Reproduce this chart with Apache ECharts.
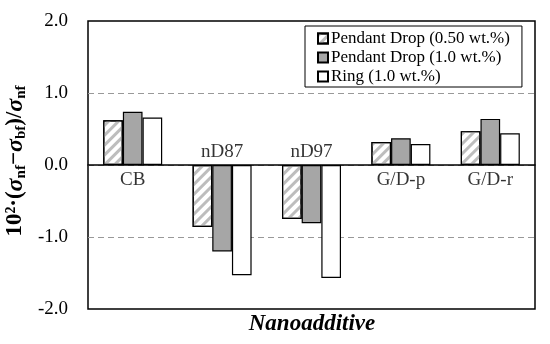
<!DOCTYPE html>
<html><head><meta charset="utf-8">
<script src="https://cdn.jsdelivr.net/npm/echarts@6/dist/echarts.min.js"></script>
<style>html,body{margin:0;padding:0;background:#fff}#c{width:550px;height:344px}</style>
</head><body><div id="c"></div>
<script>
const categories = ['CB', 'nD87', 'nD97', 'G/D-p', 'G/D-r'];
const seriesNames = ['Pendant Drop (0.50 wt.%)', 'Pendant Drop (1.0 wt.%)', 'Ring (1.0 wt.%)'];
const pendant050 = [0.62, -0.86, -0.75, 0.32, 0.47];
const pendant100 = [0.74, -1.20, -0.81, 0.37, 0.64];
const ring100 = [0.66, -1.53, -1.57, 0.29, 0.44];
const yMin = -2, yMax = 2, yStep = 1;

const FONT = 'Liberation Serif';
const chart = echarts.init(document.getElementById('c'), null, {renderer: 'canvas'});
const border = {borderColor: '#000', borderWidth: 1.2};
const labelData = categories.map((c, i) => {
  const m = pendant050[i] + pendant100[i] + ring100[i];
  return {name: c, value: [c, 0], label: {position: m > 0 ? 'bottom' : 'top', distance: m > 0 ? 6 : 3}};
});
chart.setOption({
  animation: false,
  grid: {left: 88, right: 15, top: 21, bottom: 35, show: true, borderColor: '#000', borderWidth: 1.5, backgroundColor: 'transparent'},
  legend: {
    orient: 'vertical', left: 305, top: 26, icon: 'rect',
    padding: [4, 12, 2, 12], borderColor: '#000', borderWidth: 1,
    itemWidth: 10, itemHeight: 10, itemGap: 2,
    textStyle: {fontFamily: FONT, fontSize: 17, color: '#000', lineHeight: 17, padding: [0, 0, 0, -2]},
    data: seriesNames
  },
  xAxis: {
    type: 'category', data: categories,
    axisLine: {onZero: true, lineStyle: {color: '#000', width: 1.5}},
    axisTick: {show: false}, axisLabel: {show: false}
  },
  yAxis: {
    type: 'value', min: yMin, max: yMax, interval: yStep,
    axisLine: {show: false}, axisTick: {show: false},
    axisLabel: {fontFamily: FONT, fontSize: 19, color: '#000', margin: 20, formatter: v => v.toFixed(1)},
    splitLine: {show: true, showMinLine: false, showMaxLine: false, lineStyle: {color: '#999', width: 1.2, type: [6, 4]}}
  },
  series: [
    {name: seriesNames[0], type: 'bar', data: pendant050, barGap: '0%', barCategoryGap: '34%',
     itemStyle: Object.assign({color: '#fff', decal: {symbol: 'rect', color: '#bdbdbd', dashArrayX: [1, 0], dashArrayY: [3, 4], rotation: -Math.PI / 4}}, border)},
    {name: seriesNames[1], type: 'bar', data: pendant100, barGap: '0%', barCategoryGap: '34%',
     itemStyle: Object.assign({color: '#a6a6a6'}, border)},
    {name: seriesNames[2], type: 'bar', data: ring100, barGap: '0%', barCategoryGap: '34%',
     itemStyle: Object.assign({color: '#fff'}, border)},
    {type: 'scatter', symbolSize: 0, data: labelData, z: 5,
     label: {show: true, formatter: p => p.name, fontFamily: FONT, fontSize: 19, color: '#000'}}
  ],
  graphic: [
    {type: 'text', x: 312, y: 324, style: {text: 'Nanoadditive', font: 'italic bold 23px "Liberation Serif"', fill: '#000', align: 'center', verticalAlign: 'middle'}},
    {type: 'text', x: 17, y: 161, rotation: Math.PI / 2,
     style: {
       text: '{b|10²·(}{s|σ}{sub|nf}{b|−}{s|σ}{sub|bf}{b|)/}{s|σ}{sub|nf}',
       align: 'center', verticalAlign: 'middle', fill: '#000',
       rich: {
         b: {fontFamily: FONT, fontWeight: 'bold', fontSize: 23, verticalAlign: 'top', lineHeight: 27},
         s: {fontFamily: FONT, fontWeight: 'bold', fontStyle: 'italic', fontSize: 24, verticalAlign: 'top', lineHeight: 27},
         sub: {fontFamily: FONT, fontWeight: 'bold', fontSize: 15, verticalAlign: 'top', lineHeight: 27, padding: [10, 0, 0, 0]}
       }
     }}
  ]
});
</script></body></html>
